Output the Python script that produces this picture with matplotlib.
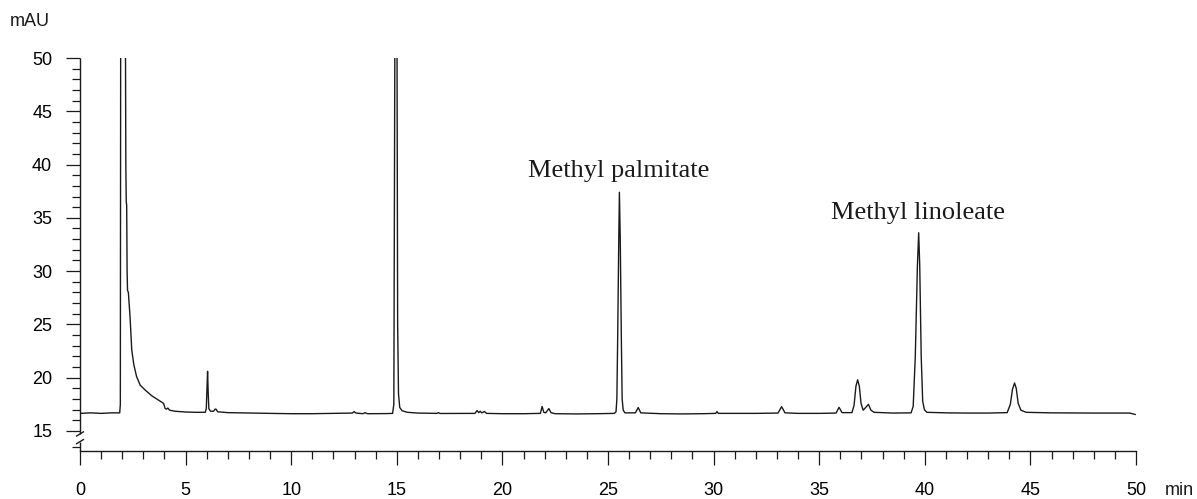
import matplotlib
matplotlib.use("Agg")
import matplotlib.pyplot as plt
from matplotlib.ticker import FixedLocator

# Chromatogram trace: retention time (min) and signal (mAU)
time_min = [
    0.00, 0.50, 1.00, 1.50, 1.88, 1.91, 1.93, 2.14, 2.17, 2.19, 2.21, 2.23, 2.25, 2.29,
    2.37, 2.45, 2.55, 2.68, 2.85, 3.08, 3.40, 3.71, 3.95, 3.99, 4.03, 4.10, 4.16, 4.24,
    4.50, 5.00, 5.50, 5.93, 5.98, 6.01, 6.04, 6.07, 6.10, 6.18, 6.32, 6.40, 6.44, 6.52,
    7.00, 8.00, 9.00, 10.00, 11.00, 12.00, 12.90, 12.98, 13.06, 13.40, 13.50, 13.60,
    14.00, 14.50, 14.80, 14.86, 14.92, 15.00, 15.04, 15.08, 15.14, 15.25, 15.50, 16.00,
    16.90, 16.97, 17.05, 18.00, 18.70, 18.80, 18.88, 18.95, 19.02, 19.15, 19.25, 20.00,
    21.00, 21.80, 21.88, 21.96, 22.05, 22.20, 22.30, 22.50, 23.50, 24.50, 25.30, 25.38,
    25.42, 25.46, 25.51, 25.54, 25.58, 25.63, 25.67, 25.72, 25.80, 26.30, 26.43, 26.55,
    27.50, 28.50, 29.50, 30.10, 30.16, 30.22, 31.00, 32.00, 33.05, 33.22, 33.38, 34.00,
    35.00, 35.80, 35.94, 36.08, 36.55, 36.65, 36.74, 36.82, 36.90, 36.98, 37.08, 37.20,
    37.33, 37.45, 37.60, 38.50, 39.35, 39.45, 39.55, 39.65, 39.71, 39.76, 39.83, 39.90,
    39.98, 40.10, 41.00, 42.00, 43.00, 43.90, 44.05, 44.15, 44.25, 44.33, 44.42, 44.55,
    44.80, 46.00, 48.00, 49.70, 49.96,
]
signal_mau = [
    16.65, 16.70, 16.65, 16.70, 16.70, 17.50, 60.00, 60.00, 40.00, 36.50, 36.20, 30.00, 28.20, 28.00,
    25.70, 22.60, 21.20, 20.10, 19.30, 18.85, 18.30, 17.90, 17.60, 17.40, 17.10, 17.05, 17.15, 16.95,
    16.85, 16.78, 16.75, 16.75, 17.10, 18.80, 20.60, 18.60, 17.10, 16.85, 16.85, 17.05, 17.05, 16.80,
    16.72, 16.68, 16.65, 16.62, 16.62, 16.65, 16.68, 16.82, 16.68, 16.62, 16.72, 16.62,
    16.62, 16.63, 16.65, 17.50, 60.00, 60.00, 25.00, 18.50, 17.20, 16.90, 16.75, 16.68,
    16.65, 16.72, 16.64, 16.65, 16.65, 16.92, 16.72, 16.85, 16.70, 16.82, 16.65, 16.62,
    16.62, 16.65, 17.30, 16.75, 16.70, 17.10, 16.72, 16.62, 16.60, 16.62, 16.65, 16.80,
    18.00, 24.00, 33.00, 37.40, 33.00, 24.00, 18.00, 16.95, 16.70, 16.70, 17.20, 16.70,
    16.62, 16.60, 16.62, 16.65, 16.82, 16.65, 16.65, 16.65, 16.68, 17.28, 16.70, 16.65,
    16.65, 16.68, 17.22, 16.72, 16.72, 17.40, 19.20, 19.80, 19.20, 17.60, 16.95, 17.20,
    17.50, 16.95, 16.75, 16.68, 16.70, 17.30, 22.00, 30.50, 33.60, 30.50, 22.00, 17.80,
    17.00, 16.75, 16.70, 16.68, 16.68, 16.72, 17.50, 18.90, 19.50, 19.00, 17.60, 16.95,
    16.75, 16.70, 16.68, 16.68, 16.55,
]

peak_labels = ["Methyl palmitate", "Methyl linoleate"]
label_time = [25.5, 39.7]
label_signal = [38.83, 34.89]

x_major = [0, 5, 10, 15, 20, 25, 30, 35, 40, 45, 50]
y_major = [15, 20, 25, 30, 35, 40, 45, 50]

plt.rcParams['font.family'] = ['Liberation Sans', 'DejaVu Sans']

fig = plt.figure(figsize=(11.97, 4.99), dpi=100)
ax = fig.add_axes([80 / 1197, 48 / 499, 1056 / 1197, 393 / 499])

ax.plot(time_min, signal_mau, color='#1a1a1a', lw=1.0, solid_joinstyle='round')

ax.set_xlim(0, 50)
ax.set_ylim(13.12, 50)

for s in ['top', 'right']:
    ax.spines[s].set_visible(False)
ax.spines['left'].set_visible(False)
ax.spines['bottom'].set_linewidth(1.0)
ax.spines['bottom'].set_color('#1a1a1a')

# broken left axis
kw = dict(color='#1a1a1a', lw=1.0, clip_on=False, solid_capstyle='butt')
ax.plot([0, 0], [14.72, 50], **kw)
ax.plot([0, 0], [13.12, 14.0], **kw)
ax.plot([-0.19, 0.19], [14.49, 14.95], **kw)
ax.plot([-0.19, 0.19], [13.77, 14.23], **kw)

ax.xaxis.set_major_locator(FixedLocator(x_major))
ax.xaxis.set_minor_locator(FixedLocator([v for v in range(0, 51) if v % 5]))
ax.yaxis.set_major_locator(FixedLocator(y_major))
ax.yaxis.set_minor_locator(FixedLocator([13.5] + [v for v in range(16, 50) if v % 5]))

ax.tick_params(axis='both', which='major', length=10, width=0.9, color='#1a1a1a',
               labelsize=13, direction='out')
ax.tick_params(axis='both', which='minor', length=5.5, width=0.9, color='#1a1a1a',
               direction='out')
ax.tick_params(axis='x', which='major', pad=12.5)
ax.tick_params(axis='y', which='major', pad=10)

for name, t, v in zip(peak_labels, label_time, label_signal):
    ax.text(t, v, name, ha='center', va='baseline', fontsize=19,
            family=['Liberation Serif', 'DejaVu Serif'], color='#1a1a1a')

fig.text(10 / 1197, 1 - 26 / 499, "mAU", ha='left', va='baseline', fontsize=13, color='#1a1a1a')
fig.text(1165 / 1197, 1 - 495 / 499, "min", ha='left', va='baseline', fontsize=13, color='#1a1a1a')

fig.savefig("out.png", dpi=100)
